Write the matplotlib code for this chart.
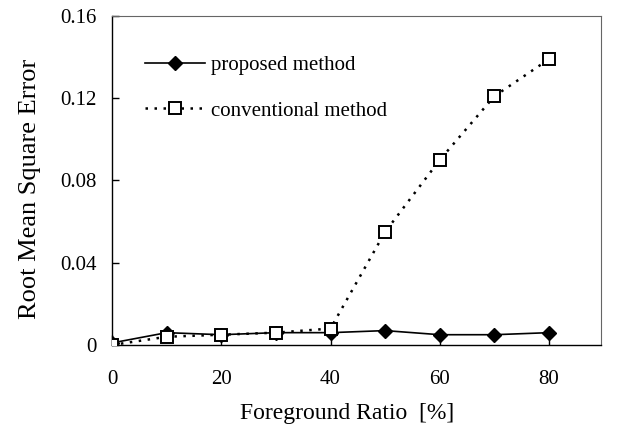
import matplotlib
matplotlib.use("Agg")
import matplotlib.pyplot as plt

# data
ratio = [0, 10, 20, 30, 40, 50, 60, 70, 80]
proposed = [0.001, 0.006, 0.005, 0.006, 0.006, 0.007, 0.005, 0.005, 0.006]
conventional = [0.0, 0.004, 0.005, 0.006, 0.008, 0.055, 0.090, 0.121, 0.139]
x_ticks = [0, 20, 40, 60, 80]
y_ticks = [0, 0.04, 0.08, 0.12, 0.16]
y_tick_labels = ["0", "0.04", "0.08", "0.12", "0.16"]

plt.rcParams["font.family"] = ["Liberation Serif", "DejaVu Serif"]

fig = plt.figure(figsize=(6.24, 4.32), dpi=100)
ax = fig.add_axes([0.1795, 0.2014, 0.7835, 0.7616])

ax.plot(ratio, proposed, "-", color="black", lw=1.2,
        marker="D", markersize=7, markerfacecolor="black",
        label="proposed method", zorder=3)
ax.plot(ratio, conventional, color="black", lw=1.8, linestyle=(0, (1, 2.6)),
        marker="s", markersize=8, markerfacecolor="white",
        markeredgewidth=1.4, label="conventional method", zorder=4)

ax.set_xlim(0, 89.5)
ax.set_ylim(0, 0.16)
ax.set_xticks(x_ticks)
ax.set_yticks(y_ticks)
ax.set_yticklabels(y_tick_labels)
ax.tick_params(axis="x", direction="in", length=7, width=1, pad=18, labelsize=15)
ax.tick_params(axis="y", direction="in", length=5, width=1, pad=11, labelsize=15)

ax.set_xlabel("Foreground Ratio  [%]", fontsize=17)
ax.set_ylabel("Root Mean Square Error", fontsize=19)
ax.xaxis.set_label_coords(0.48, -0.177)
ax.yaxis.set_label_coords(-0.145, 0.475)

for side in ["top", "right"]:
    ax.spines[side].set_linestyle((0, (1, 1)))
    ax.spines[side].set_linewidth(0.8)
    ax.spines[side].set_color("#666666")
for side in ["left", "bottom"]:
    ax.spines[side].set_linewidth(1.0)

ax.legend(loc="upper left", bbox_to_anchor=(0.067, 0.88), frameon=False,
          fontsize=15, handlelength=2.9, handletextpad=0.3,
          labelspacing=1.25, borderpad=0, borderaxespad=0)

fig.savefig("out.png", dpi=100)
